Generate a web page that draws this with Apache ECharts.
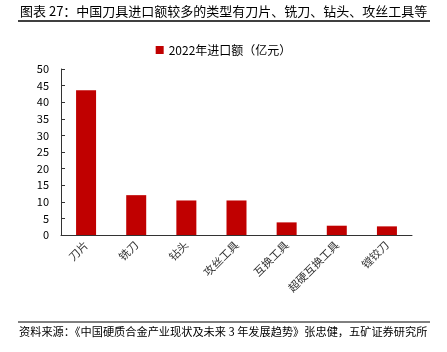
<!DOCTYPE html>
<html>
<head>
<meta charset="utf-8">
<script src="https://cdn.jsdelivr.net/npm/echarts@6/dist/echarts.min.js"></script>
<style>
  html, body { margin: 0; padding: 0; background: #fff; }
  #main { width: 447px; height: 352px; }
</style>
</head>
<body>
<div id="main"></div>
<script>
var categories = ['刀片', '铣刀', '钻头', '攻丝工具', '互换工具', '超硬互换工具', '镗铰刀'];
var importValues = [43.6, 12.0, 10.4, 10.4, 3.8, 2.8, 2.6];
var seriesName = '2022年进口额（亿元）';

var font = '"Noto Sans CJK SC", "Liberation Sans", sans-serif';

var chart = echarts.init(document.getElementById('main'));

var option = {
  backgroundColor: '#fff',
  animation: false,
  textStyle: { fontFamily: font },
  color: ['#C00000'],
  legend: {
    data: [seriesName],
    top: 39,
    left: 'center',
    itemWidth: 8,
    itemHeight: 8,
    itemGap: 4,
    icon: 'rect',
    textStyle: { fontSize: 12, color: '#000', fontFamily: font }
  },
  grid: {
    left: 61,
    right: 35,
    top: 69,
    bottom: 117
  },
  xAxis: {
    type: 'category',
    data: categories,
    axisLine: { lineStyle: { color: '#333', width: 1 } },
    axisTick: { inside: true, length: 4, lineStyle: { color: '#333' } },
    axisLabel: { rotate: 45, fontSize: 11, color: '#333', margin: 8, interval: 0, fontFamily: font }
  },
  yAxis: {
    type: 'value',
    min: 0,
    max: 50,
    interval: 5,
    splitLine: { show: false },
    axisLine: { show: true, lineStyle: { color: '#333', width: 1 } },
    axisTick: { show: true, inside: true, length: 4, lineStyle: { color: '#333' } },
    axisLabel: { fontSize: 11, color: '#000', margin: 12, fontFamily: font }
  },
  series: [{
    name: seriesName,
    type: 'bar',
    data: importValues,
    barWidth: 20
  }],
  graphic: [
    {
      type: 'text', left: 20, top: 5,
      style: { text: '图表 27：中国刀具进口额较多的类型有刀片、铣刀、钻头、攻丝工具等', fontSize: 13, fill: '#000', fontFamily: font }
    },
    {
      type: 'line', shape: { x1: 18, y1: 21, x2: 430, y2: 21 },
      style: { stroke: '#000', lineWidth: 1.5 }
    },
    {
      type: 'line', shape: { x1: 18, y1: 322, x2: 430, y2: 322 },
      style: { stroke: '#000', lineWidth: 1 }
    },
    {
      type: 'text', left: 19, top: 326,
      style: { text: '资料来源：《中国硬质合金产业现状及未来 3 年发展趋势》张忠健，五矿证券研究所', fontSize: 11.2, fill: '#000', fontFamily: font }
    }
  ]
};

chart.setOption(option);
</script>
</body>
</html>
